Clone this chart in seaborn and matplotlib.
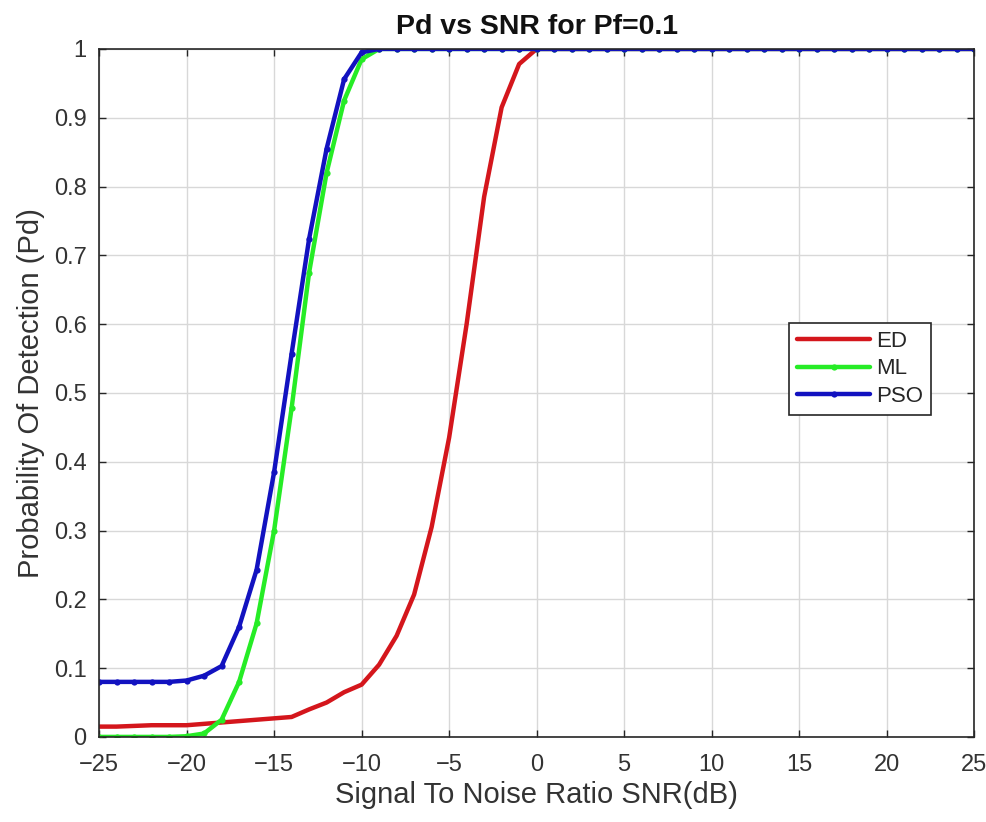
import numpy as np
import pandas as pd
import matplotlib
matplotlib.use("Agg")
import matplotlib.pyplot as plt
import seaborn as sns

snr = list(range(-25, 26))

ed = [0.015, 0.015, 0.016, 0.017, 0.017, 0.017, 0.019, 0.021, 0.023, 0.025,
      0.027, 0.029, 0.040, 0.050, 0.065, 0.076, 0.105, 0.147, 0.207, 0.305,
      0.435, 0.600, 0.785, 0.915, 0.978, 1.0] + [1.0] * 25
ml = [0.0, 0.0, 0.0, 0.0, 0.0, 0.001, 0.005, 0.025, 0.08, 0.165,
      0.30, 0.478, 0.675, 0.82, 0.925, 0.985, 1.0] + [1.0] * 34
pso = [0.08, 0.08, 0.08, 0.08, 0.08, 0.082, 0.089, 0.103, 0.16, 0.243,
       0.385, 0.557, 0.724, 0.855, 0.956, 0.995, 1.0] + [1.0] * 34

x_ticks = list(range(-25, 26, 5))
x_tick_labels = [("\u2212" + str(-t)) if t < 0 else str(t) for t in x_ticks]
y_ticks = [0, 0.1, 0.2, 0.3, 0.4, 0.5, 0.6, 0.7, 0.8, 0.9, 1.0]
y_tick_labels = ["0", "0.1", "0.2", "0.3", "0.4", "0.5", "0.6", "0.7", "0.8", "0.9", "1"]

sns.set_theme(style="whitegrid")
plt.rcParams['font.family'] = ['Liberation Sans', 'DejaVu Sans']

fig = plt.figure(figsize=(9.86, 8.22), dpi=100)
ax = fig.add_axes([0.1005, 0.1035, 0.8875, 0.837])

df = pd.DataFrame({"snr": snr, "ED": ed, "ML": ml, "PSO": pso})

sns.lineplot(data=df, x="snr", y="ED", ax=ax, color="#d4161c", lw=3.2, label="ED")
sns.lineplot(data=df, x="snr", y="ML", ax=ax, color="#26ec26", lw=3.2, marker="o",
             markersize=4.5, markeredgewidth=0, label="ML")
sns.lineplot(data=df, x="snr", y="PSO", ax=ax, color="#1212c0", lw=3.2, marker="o",
             markersize=4.5, markeredgewidth=0, label="PSO")

ax.set_xlim(-25, 25)
ax.set_ylim(0, 1)
ax.set_xticks(x_ticks)
ax.set_xticklabels(x_tick_labels)
ax.set_yticks(y_ticks)
ax.set_yticklabels(y_tick_labels)
ax.tick_params(axis="both", direction="in", length=5, width=1, color="#262626",
               labelsize=17, labelcolor="#333333", top=True, right=True,
               bottom=True, left=True)
ax.tick_params(axis="x", pad=12)
ax.tick_params(axis="y", pad=9)
ax.grid(True, color="#d8d8d8", lw=1)
for s in ax.spines.values():
    s.set_visible(True)
    s.set_color("#262626")
    s.set_linewidth(1.2)
ax.set_facecolor("white")

ax.set_title("Pd vs SNR for Pf=0.1", fontsize=20.5, fontweight="bold", pad=11,
             color="#111111")
ax.set_xlabel("Signal To Noise Ratio SNR(dB)", fontsize=21, color="#333333", labelpad=4)
ax.set_ylabel("Probability Of Detection (Pd)", fontsize=21, color="#333333", labelpad=6)

leg = ax.legend(loc="upper left", bbox_to_anchor=(0.776, 0.618), fontsize=16,
                frameon=True, fancybox=False, edgecolor="#262626", framealpha=1,
                handlelength=3.3, borderpad=0.35, labelspacing=0.3, handletextpad=0.25)
leg.get_frame().set_linewidth(1.2)

fig.savefig("out.png", dpi=100, facecolor="white")
